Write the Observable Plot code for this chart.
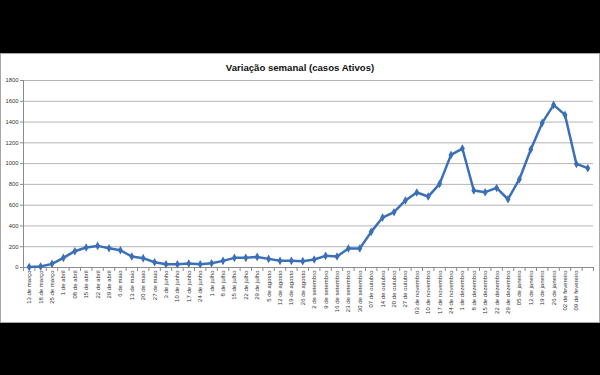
<!DOCTYPE html>
<html>
<head>
<meta charset="utf-8">
<script src="https://cdn.jsdelivr.net/npm/d3@7"></script>
<script src="https://cdn.jsdelivr.net/npm/@observablehq/plot@0.6"></script>
<style>
html, body { margin: 0; padding: 0; background: #000; width: 600px; height: 375px; overflow: hidden; }
#panel { position: absolute; left: 0; top: 53px; width: 598px; height: 268px; background: #fff; border: 1px solid #a6a6a6; }
#title { position: absolute; left: 0; top: 8px; width: 598px; text-align: center; font: bold 9.6px "Liberation Sans", Arial, sans-serif; color: #111; }
#chart { position: absolute; left: 0; top: 23px; }
</style>
</head>
<body>
<div id="panel">
  <div id="title">Variação semanal (casos Ativos)</div>
  <div id="chart"></div>
</div>
<script>
const dates = [
  "13 de março", "18 de março", "25 de março", "1 de abril", "08 de abril", "15 de abril",
  "22 de abril", "29 de abril", "6 de maio", "13 de maio", "20 de maio", "27 de maio",
  "3 de junho", "10 de junho", "17 de junho", "24 de junho", "1 de julho", "8 de julho",
  "15 de julho", "22 de julho", "29 de julho", "5 de agosto", "12 de agosto", "19 de agosto",
  "26 de agosto", "2 de setembro", "9 de setembro", "16 de setembro", "23 de setembro",
  "30 de setembro", "07 de outubro", "14 de outubro", "20 de outubro", "27 de outubro",
  "03 de novembro", "10 de novembro", "17 de novembro", "24 de novembro", "1 de dezembro",
  "8 de dezembro", "15 de dezembro", "22 de dezembro", "29 de dezembro", "05 de janeiro",
  "12 de janeiro", "19 de janeiro", "26 de janeiro", "02 de fevereiro", "09 de fevereiro"
];
const casos = [
  5, 10, 35, 93, 157, 192, 208, 186, 166, 106, 90, 51, 32, 32, 38, 32, 41, 64, 93, 93,
  102, 83, 64, 64, 61, 77, 112, 106, 183, 183, 343, 481, 532, 645, 722, 683, 805, 1084,
  1145, 741, 725, 766, 657, 850, 1136, 1392, 1565, 1469, 997, 956
];
const yTicks = [0, 200, 400, 600, 800, 1000, 1200, 1400, 1600, 1800];

const rows = casos.map((v, i) => ({i, v}));
const n = casos.length;
const bounds = d3.range(n + 1).map(k => k - 0.5);
const blue = "#3c70b6";

const chart = Plot.plot({
  width: 597,
  height: 245,
  marginLeft: 22,
  marginRight: 5,
  marginTop: 3,
  marginBottom: 55,
  style: { fontFamily: "'Liberation Sans', Arial, sans-serif", background: "transparent", color: "#333" },
  x: { domain: [-0.5, n - 0.5], axis: null },
  y: { domain: [0, 1800], axis: null },
  marks: [
    Plot.gridY(yTicks, { stroke: "#b4b4b4", strokeOpacity: 1 }),
    Plot.ruleX([-0.5], { stroke: "#8c8c8c" }),
    Plot.ruleY([0], { stroke: "#8c8c8c" }),
    Plot.axisY(yTicks, { tickSize: 3, tickPadding: 2, fontSize: 5.8, label: null, tickFormat: d => String(d), stroke: "#8c8c8c", fill: "#333" }),
    Plot.axisX(bounds, { tickSize: 4, tickFormat: () => "", label: null, stroke: "#8c8c8c" }),
    Plot.axisX(d3.range(dates.length), {
      tickSize: 0, tickPadding: 3, tickRotate: -90, fontSize: 6,
      tickFormat: i => dates[i], label: null, fill: "#333"
    }),
    Plot.line(rows, { x: "i", y: "v", stroke: blue, strokeWidth: 2.5, strokeLinejoin: "round" }),
    Plot.dot(rows, { x: "i", y: "v", symbol: "diamond", r: 2.6, fill: blue, stroke: "none" })
  ]
});
document.getElementById("chart").appendChild(chart);
</script>
</body>
</html>
